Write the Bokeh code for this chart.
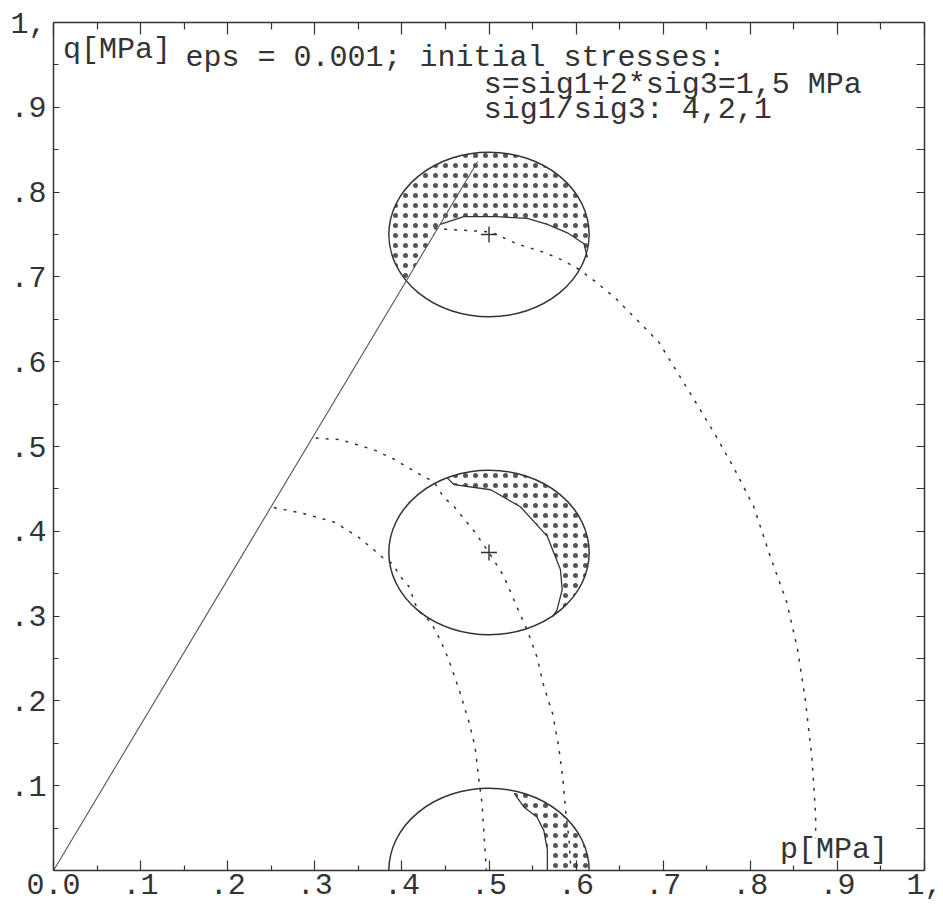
import numpy as np
from bokeh.plotting import figure
from bokeh.models import FixedTicker, LinearAxis, Range1d, Label
from bokeh.embed import file_html
from bokeh.resources import INLINE

# ---------------- data ----------------
x_ticks = [0.0, 0.1, 0.2, 0.3, 0.4, 0.5, 0.6, 0.7, 0.8, 0.9, 1.0]
x_tick_labels = ["0.0", ".1", ".2", ".3", ".4", ".5", ".6", ".7", ".8", ".9", "1,"]
y_ticks = [0.1, 0.2, 0.3, 0.4, 0.5, 0.6, 0.7, 0.8, 0.9, 1.0]
y_tick_labels = [".1", ".2", ".3", ".4", ".5", ".6", ".7", ".8", ".9", "1,"]

# circles (p-q centres and half-axes)
circle_p = [0.5, 0.5, 0.5]
circle_q = [0.75, 0.375, 0.0]
radius_p = 0.115
radius_q = 0.097

# centre crosses
cross_p = [0.5, 0.5]
cross_q = [0.75, 0.375]

# failure line from the origin
line_p = [0.0, 0.487]
line_q = [0.0, 0.836]

# stress path through upper circle (dotted)
pathC_p = [0.437, 0.471, 0.502, 0.532, 0.563, 0.586, 0.603, 0.624, 0.645, 0.674, 0.695,
           0.704, 0.735, 0.758, 0.781, 0.804, 0.823, 0.842, 0.854, 0.863, 0.871, 0.875, 0.875]
pathC_q = [0.757, 0.755, 0.753, 0.739, 0.729, 0.719, 0.709, 0.693, 0.675, 0.645, 0.623,
           0.608, 0.556, 0.517, 0.475, 0.429, 0.370, 0.316, 0.262, 0.203, 0.130, 0.066, 0.038]

# upper stress path through middle circle (dotted)
pathA_p = [0.301, 0.330, 0.368, 0.391, 0.414, 0.437, 0.448, 0.460, 0.483, 0.500, 0.517,
           0.532, 0.544, 0.555, 0.563, 0.573, 0.580, 0.585, 0.588, 0.592, 0.594]
pathA_q = [0.510, 0.508, 0.496, 0.485, 0.471, 0.458, 0.440, 0.429, 0.400, 0.375, 0.347,
           0.311, 0.283, 0.252, 0.217, 0.185, 0.146, 0.106, 0.070, 0.035, 0.0]

# lower stress path through middle circle (dotted)
pathB_p = [0.253, 0.287, 0.322, 0.349, 0.368, 0.379, 0.389, 0.398, 0.408, 0.418, 0.433,
           0.444, 0.454, 0.467, 0.477, 0.484, 0.488, 0.492, 0.494, 0.497]
pathB_q = [0.428, 0.421, 0.411, 0.394, 0.378, 0.368, 0.362, 0.347, 0.335, 0.307, 0.293,
           0.272, 0.248, 0.209, 0.175, 0.146, 0.110, 0.079, 0.047, 0.0]

# inner boundaries of the stippled regions
top_inner_p = [0.405, 0.444, 0.471, 0.509, 0.544, 0.567, 0.590, 0.609, 0.613]
top_inner_q = [0.695, 0.762, 0.771, 0.771, 0.769, 0.762, 0.752, 0.739, 0.723]
mid_inner_p = [0.452, 0.460, 0.502, 0.536, 0.567, 0.582, 0.584, 0.578, 0.573]
mid_inner_q = [0.463, 0.455, 0.449, 0.429, 0.394, 0.355, 0.331, 0.307, 0.299]
bot_inner_p = [0.529, 0.540, 0.555, 0.563, 0.567, 0.567]
bot_inner_q = [0.091, 0.075, 0.063, 0.047, 0.024, 0.0]

# ---------------- helpers ----------------
def stipple_region(cp, cq, inner_p, inner_q, n=80):
    t0 = np.arctan2((inner_q[-1] - cq) / radius_q, (inner_p[-1] - cp) / radius_p)
    t1 = np.arctan2((inner_q[0] - cq) / radius_q, (inner_p[0] - cp) / radius_p)
    if t1 < t0:
        t1 += 2 * np.pi
    t = np.linspace(t0, t1, n)
    xs = list(cp + radius_p * np.cos(t)) + list(inner_p)
    ys = list(cq + radius_q * np.sin(t)) + list(inner_q)
    return xs, ys

INK = "#333333"
FONT = "Liberation Mono"

p = figure(width=943, height=908, x_range=Range1d(0, 1), y_range=Range1d(0, 1),
           x_axis_type=None, y_axis_type=None, output_backend="svg",
           toolbar_location=None, min_border_left=53, min_border_right=19,
           min_border_top=22, min_border_bottom=38)
p.outline_line_color = None
p.background_fill_color = "white"
p.border_fill_color = "white"

x_minor = [round(a + 0.05, 2) for a in x_ticks[:-1]]
y_minor = [0.05] + [round(a + 0.05, 2) for a in y_ticks[:-1]]

def make_axis(ticks, minor, labels, tin, mtin, font_size, standoff):
    ax = LinearAxis(ticker=FixedTicker(ticks=ticks, minor_ticks=minor),
                    major_label_overrides=dict(zip(ticks, labels)),
                    major_tick_in=tin, major_tick_out=0,
                    minor_tick_in=mtin, minor_tick_out=0,
                    axis_line_color=INK, axis_line_width=1.5,
                    major_tick_line_color=INK, major_tick_line_width=1.2,
                    minor_tick_line_color=INK, minor_tick_line_width=1.2,
                    major_label_text_font=FONT, major_label_text_font_size=font_size,
                    major_label_text_color=INK, major_label_standoff=standoff)
    return ax

p.add_layout(make_axis(x_ticks, x_minor, x_tick_labels, 10, 5, "30px", 3), "below")
p.add_layout(make_axis(x_ticks, x_minor, [""] * len(x_ticks), 12, 7, "1px", 0), "above")
p.add_layout(make_axis(y_ticks, y_minor, y_tick_labels, 6, 5, "30px", 7), "left")
p.add_layout(make_axis(y_ticks, y_minor, [""] * len(y_ticks), 8, 8, "1px", 0), "right")

# stippled regions
regions = [stipple_region(circle_p[0], circle_q[0], top_inner_p, top_inner_q),
           stipple_region(circle_p[1], circle_q[1], mid_inner_p, mid_inner_q),
           stipple_region(circle_p[2], circle_q[2], bot_inner_p, bot_inner_q)]
p.patches(xs=[r[0] for r in regions], ys=[r[1] for r in regions],
          fill_color="white", fill_alpha=0.0, line_color=None,
          hatch_pattern="dot", hatch_scale=10, hatch_weight=1.0, hatch_color="#555555")

# circles
p.ellipse(x=circle_p, y=circle_q, width=2 * radius_p, height=2 * radius_q,
          fill_color=None, line_color=INK, line_width=1.5)

# inner boundaries
p.line(top_inner_p[1:], top_inner_q[1:], line_color=INK, line_width=1.3)
p.line(mid_inner_p, mid_inner_q, line_color=INK, line_width=1.3)
p.line(bot_inner_p, bot_inner_q, line_color=INK, line_width=1.3)

# failure line
p.line(line_p, line_q, line_color="#555555", line_width=1.1)

# stress paths
for xs, ys in [(pathC_p, pathC_q), (pathA_p, pathA_q), (pathB_p, pathB_q)]:
    p.line(xs, ys, line_color=INK, line_width=1.5, line_dash="3 7")

# centre crosses
p.scatter(cross_p, cross_q, marker="cross", size=16, line_color=INK, line_width=1.4)

# texts
def add_text(x, y, s):
    p.add_layout(Label(x=x, y=y, text=s, text_font=FONT, text_font_size="30px",
                       text_color=INK, text_align="left", text_baseline="alphabetic"))

add_text(0.011, 0.968, "q[MPa]")
add_text(0.1516, 0.958, "eps = 0.001; initial stresses:")
add_text(0.494, 0.926, "s=sig1+2*sig3=1,5 MPa")
add_text(0.494, 0.897, "sig1/sig3: 4,2,1")
add_text(0.834, 0.024, "p[MPa]")

open("out.html", "w").write(file_html(p, INLINE))
